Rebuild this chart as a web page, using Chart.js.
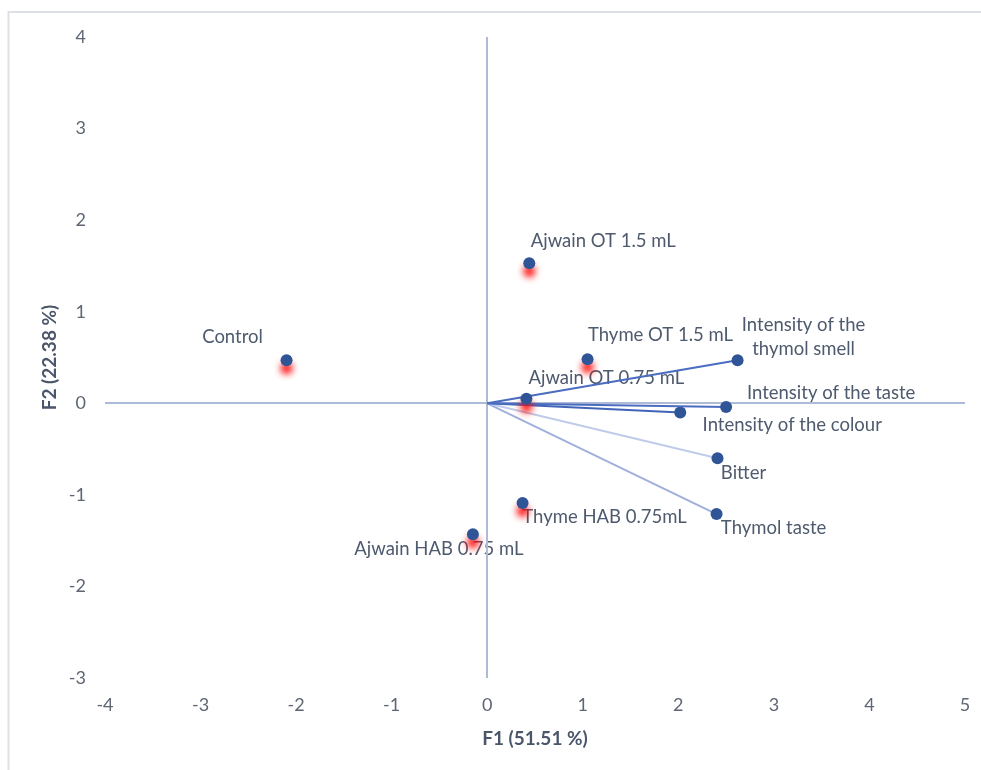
<!DOCTYPE html>
<html><head><meta charset="utf-8">
<script src="https://cdn.jsdelivr.net/npm/chart.js@4.4.0/dist/chart.umd.min.js"></script>
<style>html,body{margin:0;padding:0;background:#fff;} #wrap{position:relative;width:981px;height:770px;}</style>
</head><body><div id="wrap"><canvas id="c" width="981" height="770"></canvas></div>
<script>
// ---- data ----
const obsLabels = ['Control', 'Ajwain OT 1.5 mL', 'Thyme OT 1.5 mL', 'Ajwain OT 0.75 mL', 'Thyme HAB 0.75mL', 'Ajwain HAB 0.75 mL'];
const obsF1 = [-2.10, 0.44, 1.05, 0.41, 0.37, -0.15];
const obsF2 = [0.47, 1.53, 0.48, 0.05, -1.09, -1.43];
const varLabels = [['Intensity of the', 'thymol smell'], ['Intensity of the taste'], ['Intensity of the colour'], ['Bitter'], ['Thymol taste']];
const varF1 = [2.62, 2.50, 2.02, 2.41, 2.40];
const varF2 = [0.47, -0.04, -0.10, -0.60, -1.21];
const xTicks = [-4, -3, -2, -1, 0, 1, 2, 3, 4, 5];
const yTicks = [-3, -2, -1, 0, 1, 2, 3, 4];
const xTitle = 'F1 (51.51 %)';
const yTitle = 'F2 (22.38 %)';

// ---- styles ----
const FONT = 'Lato';
const labelColor = '#4e5a6e';
const tickColor = '#5e6573';
const pointColor = '#2f5597';
const axisColor = '#aebbd6';
const vecColors = ['#4a6cc1', '#4a6cc1', '#4264b8', '#bfcce9', '#9fb0dc'];
const obsLabelOffsets = [[-54, -23], [74, -22], [73, -24], [80, -21], [82, 14], [-34, 15]];
const varLabelOffsets = [[66, -35], [105, -14], [112, 13], [26, 15], [57, 14]];
const lineGap = 24;

const datasets = [];
datasets.push({
  label: 'Observations',
  data: obsF1.map((x, i) => ({x: x, y: obsF2[i]})),
  pointRadius: 6, pointBackgroundColor: pointColor, pointBorderWidth: 0,
  showLine: false, glow: true
});
varF1.forEach((x, i) => {
  datasets.push({
    label: varLabels[i].join(' '),
    data: [{x: 0, y: 0}, {x: x, y: varF2[i]}],
    showLine: true, borderColor: vecColors[i], borderWidth: 2,
    pointRadius: [0, 6], pointBackgroundColor: pointColor, pointBorderWidth: 0
  });
});

const bgPlugin = {
  id: 'bgLabels',
  beforeDraw(chart) {
    const ctx = chart.ctx;
    ctx.save();
    ctx.fillStyle = '#fff';
    ctx.fillRect(0, 0, chart.width, chart.height);
    ctx.strokeStyle = '#dde1e6'; ctx.lineWidth = 2;
    ctx.beginPath(); ctx.moveTo(8.5, 770); ctx.lineTo(8.5, 12); ctx.lineTo(981, 12); ctx.stroke();
    const xs = chart.scales.x, ys = chart.scales.y;
    ctx.font = '18.5px ' + FONT;
    ctx.fillStyle = labelColor;
    ctx.textAlign = 'center'; ctx.textBaseline = 'middle';
    obsLabels.forEach((t, i) => {
      const px = xs.getPixelForValue(obsF1[i]), py = ys.getPixelForValue(obsF2[i]);
      ctx.fillText(t, px + obsLabelOffsets[i][0], py + obsLabelOffsets[i][1]);
    });
    varLabels.forEach((lines, i) => {
      const px = xs.getPixelForValue(varF1[i]), py = ys.getPixelForValue(varF2[i]);
      lines.forEach((t, j) => {
        ctx.fillText(t, px + varLabelOffsets[i][0], py + varLabelOffsets[i][1] + j * lineGap);
      });
    });
    ctx.restore();
  },
  beforeDatasetDraw(chart, args) {
    if (args.meta._dataset && args.meta._dataset.glow) {
      const ctx = chart.ctx;
      ctx.save();
      ctx.shadowColor = 'rgba(255,0,0,0.95)';
      ctx.shadowOffsetY = 8;
      ctx.shadowBlur = 7;
    }
  },
  afterDatasetDraw(chart, args) {
    if (args.meta._dataset && args.meta._dataset.glow) chart.ctx.restore();
  }
};

const zeroGrid = (ctx) => (ctx.tick && ctx.tick.value === 0) ? axisColor : 'rgba(0,0,0,0)';

new Chart(document.getElementById('c'), {
  type: 'scatter',
  data: {datasets: datasets},
  options: {
    responsive: false, animation: false,
    layout: {padding: {top: 37, right: 16, bottom: 0, left: 0}},
    plugins: {legend: {display: false}, tooltip: {enabled: false}},
    scales: {
      x: {
        type: 'linear', min: -4, max: 5,
        afterBuildTicks: s => { s.ticks = xTicks.map(v => ({value: v})); },
        afterFit: s => { s.height = 92; s.paddingLeft = 0; s.paddingRight = 0; },
        grid: {color: zeroGrid, lineWidth: 2, drawTicks: false},
        border: {display: false},
        ticks: {padding: 16, color: tickColor, font: {family: FONT, size: 18}},
        title: {display: true, text: xTitle, color: '#4b566a', font: {family: FONT, size: 19, weight: 'bold'}, padding: {top: 20, bottom: 20}}
      },
      y: {
        type: 'linear', min: -3, max: 4,
        afterBuildTicks: s => { s.ticks = yTicks.map(v => ({value: v})); },
        afterFit: s => { s.width = 105; s.paddingTop = 0; s.paddingBottom = 0; },
        grid: {color: zeroGrid, lineWidth: 2, drawTicks: false},
        border: {display: false},
        ticks: {padding: 19, color: tickColor, font: {family: FONT, size: 18}},
        title: {display: true, text: yTitle, color: '#4b566a', font: {family: FONT, size: 19, weight: 'bold'}, padding: {top: 38, bottom: 38}}
      }
    }
  },
  plugins: [bgPlugin]
});
</script></body></html>
